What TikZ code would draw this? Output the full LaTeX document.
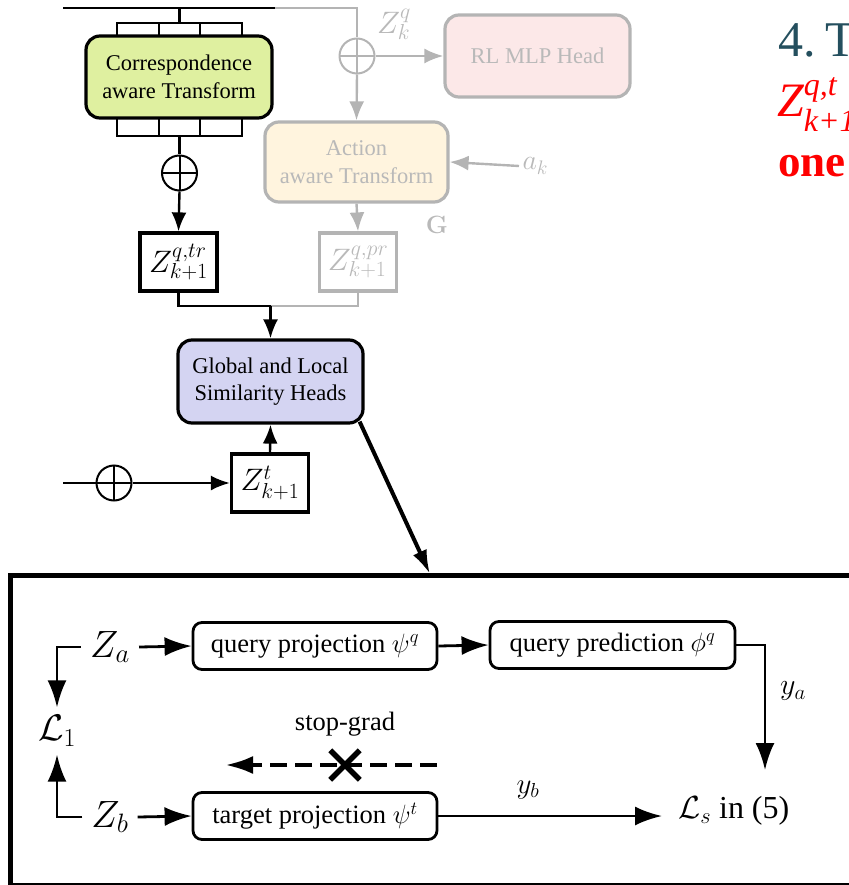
\RequirePackage{fix-cm}
\documentclass[tikz,border=0pt]{standalone}
\usepackage[no-math]{fontspec}
\setmainfont{Liberation Serif}
\usetikzlibrary{arrows.meta,shapes.misc}

\definecolor{corrgreen}{RGB}{223,240,160}
\definecolor{actfill}{RGB}{255,244,222}
\definecolor{rlfill}{RGB}{252,232,232}
\definecolor{globfill}{RGB}{212,212,242}
\definecolor{faded}{RGB}{180,180,180}
\definecolor{fadedtext}{RGB}{185,185,185}
\definecolor{slate}{RGB}{36,79,94}

\tikzset{
  mainbox/.style={draw, line width=3.2pt, rounded corners=14pt, align=center,
    inner sep=0pt, font=\fontsize{22.5}{27.5}\selectfont},
  fadedbox/.style={mainbox, draw=faded, text=fadedtext},
  zbox/.style={draw, line width=3.2pt, inner sep=0pt, minimum width=77pt,
    minimum height=58pt, font=\fontsize{31}{33}\selectfont},
  plus/.style={circle, draw, line width=2pt, minimum size=35pt, inner sep=0pt,
    path picture={\draw[line width=2pt]
      (path picture bounding box.north) -- (path picture bounding box.south)
      (path picture bounding box.west) -- (path picture bounding box.east);}},
  wire/.style={line width=2.4pt},
  arr/.style={wire, -{Latex[length=19pt,width=15pt]}},
  gwire/.style={line width=2.4pt, draw=faded},
  garr/.style={gwire, -{Latex[length=19pt,width=15pt]}},
  projbox/.style={draw, line width=2.8pt, rounded corners=9pt, inner sep=0pt,
    minimum width=244pt, minimum height=47pt, font=\fontsize{26.5}{30}\selectfont},
  lbl/.style={font=\fontsize{26.5}{30}\selectfont},
  barr/.style={line width=2.8pt, -{Latex[length=27pt,width=19pt]}},
}

\begin{document}
\begin{tikzpicture}[x=1pt,y=-1pt]
\useasboundingbox (0,0) rectangle (848,885);

% ---------------- upper block ----------------
% token patches around the correspondence transform
\draw[line width=2pt] (117,23) rectangle (242,37) (159,23) -- (159,37) (200,23) -- (200,37);
\draw[line width=2pt] (117,117) rectangle (242,136) (159,117) -- (159,136) (200,117) -- (200,136);

\node[mainbox, fill=corrgreen, minimum width=186pt, minimum height=82pt] (corr) at (179,77)
  {Correspondence\\aware Transform};
\node[fadedbox, fill=rlfill, minimum width=185pt, minimum height=82pt] (rl) at (537.5,56)
  {RL MLP Head};
\node[fadedbox, fill=actfill, minimum width=183pt, minimum height=80pt] (act) at (356.5,162)
  {Action\\aware Transform};
\node[mainbox, fill=globfill, minimum width=185pt, minimum height=83pt] (glob) at (270.5,381.5)
  {Global and Local\\Similarity Heads};

\node[plus] (cplus) at (179.5,173) {};
\node[plus, draw=faded, path picture={\draw[line width=2pt, faded]
      (path picture bounding box.north) -- (path picture bounding box.south)
      (path picture bounding box.west) -- (path picture bounding box.east);}] (gplus) at (357,56) {};
\node[plus] (lplus) at (114,483) {};

\node[zbox] (zqtr) at (178.5,262) {$Z^{q,tr}_{k+1}$};
\node[zbox, draw=faded, text=fadedtext] (zqpr) at (358,262) {$Z^{q,pr}_{k+1}$};
\node[zbox] (zt) at (270,483) {$Z^{t}_{k+1}$};

\node[text=fadedtext, font=\fontsize{31}{33}\selectfont] (zkq) at (394,24) {$Z^q_k$};
\node[text=fadedtext, font=\fontsize{28}{30}\selectfont, anchor=west] (ak) at (519,166) {$a_k$};
\node[text=fadedtext, font=\fontsize{25}{27}\selectfont] (glabel) at (437,225) {$\mathbf{G}$};

\coordinate (inL) at (63,8);
\coordinate (inM) at (275,8);
\coordinate (inR) at (357,8);
\coordinate (inT) at (63,483);
\coordinate (merge) at (glob.north |- 0,306);

% faded branch
\draw[gwire] (inM) -- (inR) -- (gplus.north);
\draw[garr] (gplus.east) -- (rl.west);
\draw[garr] (gplus.south) -- (act.north);
\draw[garr] (ak.west) -- (act.east);
\draw[garr] (act.south) -- (zqpr.north);
\draw[gwire] (zqpr.south) |- (merge);

% active branch
\draw[wire] (inL) -- (inM);
\draw[wire] (179.5,8) -- (179.5,23);
\draw[wire] (179.5,136) -- (cplus.north);
\draw[arr] (cplus.south) -- (zqtr.north);
\draw[wire] (zqtr.south) |- (merge);
\draw[arr] (merge) -- (glob.north);
\draw[wire] (inT) -- (lplus.west);
\draw[arr] (lplus.east) -- (zt.west);
\draw[arr] (zt.north) -- (glob.south);

% ---------------- side notes ----------------
\node[anchor=base west, text=slate, inner sep=0pt, font=\fontsize{50}{52}\selectfont] (note4) at (778,57) {4.\kern10pt T};
\node[anchor=base west, text=red, inner sep=0pt] (notez) at (777,117)
  {\fontsize{48}{50}\selectfont\itshape Z\fontsize{32}{34}\selectfont\rlap{\raisebox{21pt}{q,t}}\raisebox{-15pt}{k+1}};
\node[anchor=base west, text=red, inner sep=0pt, font=\fontsize{45}{47}\selectfont\bfseries] (noteone) at (778,177) {one};

% ---------------- zoomed detail ----------------
\coordinate (frameIn) at (430,574);
\draw[line width=5pt] (880,575.5) -- (10,575.5) -- (10,885.5) -- (880,885.5);
\draw[line width=4pt, -{Latex[length=24pt,width=15pt]}] ([xshift=-5pt,yshift=3pt]glob.south east) -- (frameIn);

\node[projbox] (qproj) at (315,646) {query projection $\psi^q$};
\node[projbox, minimum width=245pt] (qpred) at (612.5,645) {query prediction $\phi^q$};
\node[projbox] (tproj) at (315,816) {target projection $\psi^t$};

\node[lbl, font=\fontsize{38}{40}\selectfont, inner xsep=9pt, inner ysep=4pt] (za) at (110,647) {$Z_a$};
\node[lbl, font=\fontsize{38}{40}\selectfont, inner xsep=9pt, inner ysep=4pt] (zb) at (110,817) {$Z_b$};
\node[lbl, font=\fontsize{37}{40}\selectfont, inner xsep=2pt, inner ysep=8pt] (l1) at (57,731) {$\mathcal{L}_1$};
\node[lbl, font=\fontsize{32}{34}\selectfont, inner xsep=0pt, inner ysep=8pt, anchor=west] (ls) at (678,811) {$\mathcal{L}_s$ in (5)};
\node[lbl, font=\fontsize{30}{32}\selectfont] (ya) at (793,691) {$y_a$};
\node[lbl, font=\fontsize{29}{31}\selectfont] (yb) at (528,790) {$y_b$};
\node[lbl] (sg) at (345,724) {stop-grad};

\coordinate (sgR) at (437,765);
\coordinate (sgL) at (225,765);
\coordinate (yaTip) at (765,770);

\draw[barr] (za.east) -- (qproj.west);
\draw[barr] (qproj.east) -- (qpred.west);
\draw[barr] (zb.east) -- (tproj.west);
\draw[barr] (za.west) -| (l1.north);
\draw[barr] (zb.west) -| (l1.south);
\draw[barr] (qpred.east) -| (yaTip);
\draw[barr] (tproj.east) -- ([xshift=-16pt]tproj.east -| ls.west);
\draw[line width=4.5pt, dash pattern=on 17pt off 8pt, -{Latex[length=28pt,width=18pt]}] (sgR) -- (sgL);
\node[cross out, draw, line width=5.5pt, minimum size=24pt, inner sep=0pt, fill=white] (sgx) at (345,765) {};
\end{tikzpicture}
\end{document}
